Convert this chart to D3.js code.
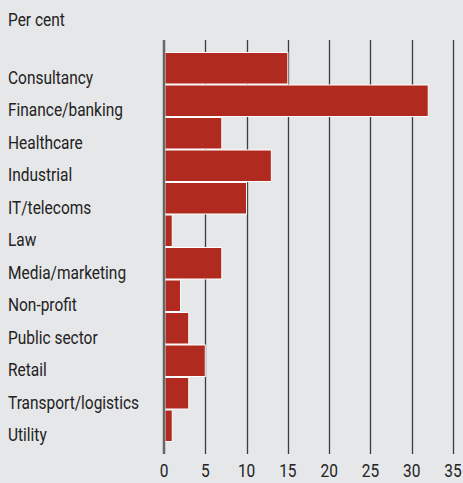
<!DOCTYPE html>
<html lang="en">
<head>
    <meta charset="UTF-8">
    <title>bar</title>
    <script src="https://cdn.jsdelivr.net/npm/d3@7"></script>
    <style>
        body { margin: 0; background: #e6e7e9; }
        svg { display: block; }
        text { font-family: Roboto, sans-serif; fill: #222; font-size: 18px; }
    </style>
</head>
<body>
    <script>
        const categories = ['Consultancy', 'Finance/banking', 'Healthcare', 'Industrial', 'IT/telecoms', 'Law',
                            'Media/marketing', 'Non-profit', 'Public sector', 'Retail', 'Transport/logistics', 'Utility'];
        const values = [15, 32, 7, 13, 10, 1, 7, 2, 3, 5, 3, 1];
        const ticks = [0, 5, 10, 15, 20, 25, 30, 35];

        const width = 463, height = 483, squeeze = 0.86;
        const svg = d3.select('body').append('svg')
                        .attr('width', width)
                        .attr('height', height);

        const x = d3.scaleLinear().domain([0, 35]).range([164, 453]);
        const y = d3.scaleBand().domain(categories).range([52, 442]).padding(0);

        // condensed look: narrow text horizontally
        function label(px, py, str, anchor) {
            svg.append('text')
                .attr('transform', `translate(${px},${py}) scale(${squeeze},1)`)
                .attr('text-anchor', anchor || 'start')
                .text(str);
        }

        label(8, 26, 'Per cent');

        // grid lines
        svg.selectAll('.grid').data(ticks.slice(1)).enter().append('line')
            .attr('class', 'grid')
            .attr('x1', d => Math.round(x(d)) + 0.5).attr('x2', d => Math.round(x(d)) + 0.5)
            .attr('y1', 40).attr('y2', 454)
            .attr('stroke', '#3c3c3c').attr('stroke-width', 1.3);

        // bars
        svg.selectAll('.bar').data(values).enter().append('rect')
            .attr('class', 'bar')
            .attr('x', x(0) + 1)
            .attr('y', (d, i) => y(categories[i]) + 0.5)
            .attr('width', d => x(d) - x(0) - 1)
            .attr('height', y.bandwidth() - 1)
            .attr('fill', '#b12a20')
            .attr('stroke', '#fff').attr('stroke-width', 1);

        // zero axis
        svg.append('line')
            .attr('x1', x(0)).attr('x2', x(0))
            .attr('y1', 40).attr('y2', 454)
            .attr('stroke', '#666').attr('stroke-width', 2.5);

        categories.forEach(c => label(8, y(c) + y.bandwidth() - 1, c));
        ticks.forEach(t => label(x(t), 477, t, 'middle'));
    </script>
</body>
</html>
